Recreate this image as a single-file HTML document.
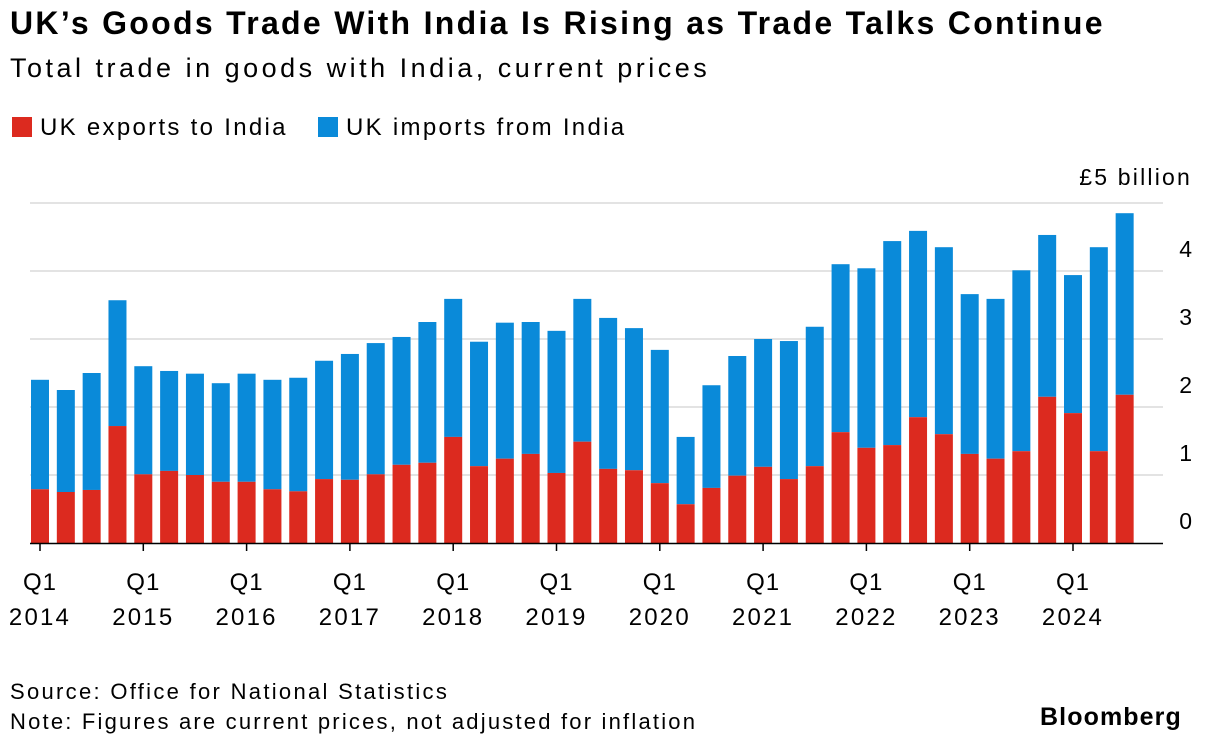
<!DOCTYPE html>
<html><head><meta charset="utf-8"><style>
body{margin:0;background:#fff;width:1205px;height:744px;overflow:hidden;font-family:"Liberation Sans",sans-serif;color:#000}
.t{position:absolute;white-space:nowrap}
</style></head><body>
<div class="t" style="left:10px;top:5px;font-size:32px;font-weight:bold;letter-spacing:2.3px">UK’s Goods Trade With India Is Rising as Trade Talks Continue</div>
<div class="t" style="left:10px;top:53px;font-size:27px;letter-spacing:3.5px">Total trade in goods with India, current prices</div>
<div class="t" style="left:12px;top:114px;font-size:24px;letter-spacing:2.3px"><span style="display:inline-block;width:20px;height:20px;background:#dc2a1f;vertical-align:-2px;margin-right:8px"></span>UK exports to India</div>
<div class="t" style="left:318px;top:114px;font-size:24px;letter-spacing:2.3px"><span style="display:inline-block;width:20px;height:20px;background:#0a8ad9;vertical-align:-2px;margin-right:8px"></span>UK imports from India</div>
<svg id="c" width="1205" height="744" style="position:absolute;left:0;top:0"></svg>
<div class="t" style="left:10px;top:679px;font-size:22px;letter-spacing:2.3px">Source: Office for National Statistics</div>
<div class="t" style="left:10px;top:709px;font-size:22px;letter-spacing:2.2px">Note: Figures are current prices, not adjusted for inflation</div>
<div class="t" style="left:1040px;top:703px;font-size:25px;font-weight:bold;letter-spacing:1.1px">Bloomberg</div>
<script>
const totals=[2.40,2.25,2.50,3.57,2.60,2.53,2.49,2.35,2.49,2.40,2.43,2.68,2.78,2.94,3.03,3.25,3.59,2.96,3.24,3.25,3.12,3.59,3.31,3.16,2.84,1.56,2.32,2.75,3.00,2.97,3.18,4.10,4.04,4.44,4.59,4.35,3.66,3.59,4.01,4.53,3.94,4.35,4.85];
const exportsUK=[0.79,0.75,0.78,1.72,1.01,1.06,1.00,0.90,0.90,0.79,0.76,0.94,0.93,1.01,1.15,1.18,1.56,1.13,1.24,1.31,1.03,1.49,1.09,1.07,0.88,0.57,0.81,0.99,1.12,0.94,1.13,1.63,1.40,1.44,1.85,1.60,1.31,1.24,1.35,2.15,1.91,1.35,2.18];
const yTicks=[0,1,2,3,4];
const years=["2014","2015","2016","2017","2018","2019","2020","2021","2022","2023","2024"];
const NS="http://www.w3.org/2000/svg",svg=document.getElementById('c');
const x=i=>40+i*25.825, y=v=>543-v*68;
function mk(t,a,txt){const e=document.createElementNS(NS,t);for(const k in a)e.setAttribute(k,a[k]);if(txt!=null)e.textContent=txt;svg.appendChild(e);return e;}
yTicks.concat([5]).forEach(v=>{if(v>0){const l=mk('line',{x1:30,x2:1163,y1:y(v),y2:y(v),stroke:'#e3e3e3','stroke-width':2});

}});
yTicks.forEach(v=>{const t=mk('text',{x:1192,y:y(v)-14,'font-size':23,'text-anchor':'end','font-family':'Liberation Sans'},String(v));

});
const yl=mk('text',{x:1192,y:y(5)-18,'font-size':23,'text-anchor':'end','font-family':'Liberation Sans','letter-spacing':2.2},'£5 billion');


totals.forEach((tv,i)=>{const e=exportsUK[i];
const b=mk('rect',{x:x(i)-9,y:y(tv),width:18,height:y(e)-y(tv),fill:'#0a8ad9'});


const r=mk('rect',{x:x(i)-9,y:y(e),width:18,height:543-y(e),fill:'#dc2a1f'});

});
const ax=mk('line',{x1:30,x2:1163,y1:543.5,y2:543.5,stroke:'#000','stroke-width':1.5});


years.forEach((yr,k)=>{const px=x(k*4);
const tk=mk('line',{x1:px,x2:px,y1:543,y2:551,stroke:'#000','stroke-width':1.5});


const q=mk('text',{x:px,y:590,'font-size':24,'text-anchor':'middle','font-family':'Liberation Sans','letter-spacing':1},'Q1');


const t=mk('text',{x:px,y:625,'font-size':24,'text-anchor':'middle','font-family':'Liberation Sans','letter-spacing':2.2},yr);

});
</script>
</body></html>
